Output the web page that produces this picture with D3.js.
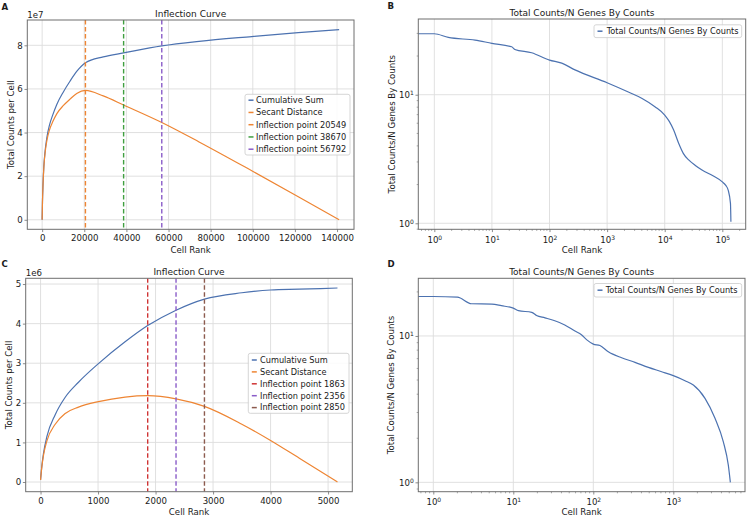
<!DOCTYPE html>
<html><head><meta charset="utf-8">
<script src="https://cdn.jsdelivr.net/npm/d3@7"></script>
<style>body{margin:0;background:#fff} text{font-family:"DejaVu Sans",sans-serif}</style>
</head><body><script>
// ---------- DATA ----------
// Panel A (values in units of 1e7)
const aRank   = [0,150,400,800,1400,2200,3500,5000,7000,10000,13200,16400,20549,29000,38670,56792,74500,99500,121600,141000];
const aCumSum = [0,0.8,1.6,2.45,3.15,3.75,4.35,4.8,5.3,5.85,6.35,6.8,7.2,7.47,7.65,7.97,8.18,8.4,8.58,8.72];
const aSecant = [0,0.79,1.58,2.4,3.06,3.61,4.13,4.49,4.87,5.23,5.53,5.79,5.93,5.68,5.26,4.46,3.57,2.25,1.06,0];
const aInflections = [20549,38670,56792];
const aXTicks = [0,20000,40000,60000,80000,100000,120000,140000];
const aYTicks = [0,2,4,6,8];

// Panel B (log-log)
const bRank  = [0.3,1,1.75,5.1,10,22,25,49,100,163,277,1000,2335,3980,6760,10000,12000,14300,17450,21000,26060,34000,44400,70000,98700,115000,126000,138500,141000];
const bRatio = [29.8,29.8,27.9,26.6,25.1,23.6,22.5,21.2,18.6,17.6,15.6,12.4,10.5,9.4,8.07,6.95,6.2,5.31,4.19,3.5,3.11,2.82,2.6,2.33,2.11,1.97,1.82,1.43,1.03];
const bXTicks = [1,10,100,1000,10000,100000];
const bYTicks = [1,10];

// Panel C (values in units of 1e6)
const cRank   = [0,24,52,111,255,429,660,1007,1470,1863,2356,2850,3500,4000,4500,5163];
const cCumSum = [0.05,0.42,0.73,1.15,1.7,2.14,2.52,2.99,3.54,3.95,4.34,4.62,4.78,4.85,4.87,4.9];
const cSecant = [0.05,0.4,0.68,1.04,1.46,1.73,1.89,2.03,2.145,2.18,2.1,1.91,1.46,1.05,0.6,0];
const cInflections = [1863,2356,2850];
const cXTicks = [0,1000,2000,3000,4000,5000];
const cYTicks = [0,1,2,3,4,5];

// Panel D (log-log)
const dRank  = [0.3,1,2,3,5.4,7.1,10,11.6,17,19.5,24.9,33,44,59,71,83,100,121,154,226,332,488,715,1000,1400,1780,2490,3320,4220,4870,5163];
const dRatio = [18.6,18.6,18.4,16.6,16.5,16.1,15.5,14.9,14.5,13.8,13.3,12.7,11.9,10.8,10.2,9.4,8.8,8.6,7.8,7.1,6.6,6.1,5.7,5.36,4.95,4.62,3.75,2.74,1.89,1.31,1.0];
const dXTicks = [1,10,100,1000];
const dYTicks = [1,10];

// ---------- STYLE ----------
const COL = {blue:"#4c72b0", orange:"#ee8533", green:"#3f9f3f", purple:"#8a5cc8",
  red:"#cf3434", brown:"#8c5b4e", grid:"#dcdcdc", spine:"#6e6e6e", text:"#1a1a1a"};
const W=749, H=519;
const svg = d3.select("body").append("svg").attr("width",W).attr("height",H);
svg.append("rect").attr("width",W).attr("height",H).attr("fill","#fff");
let clipN = 0;

function txt(g, x, y, s, size, opts={}) {
  return g.append("text").attr("x",x).attr("y",y).attr("font-size",size+"px")
    .attr("fill",COL.text).attr("text-anchor",opts.anchor||"start")
    .attr("font-weight",opts.bold?"bold":"normal").text(s);
}

function panel(o) {
  const {l,t,r,b} = o.box;
  const g = svg.append("g");
  g.selectAll(null).data(o.xTicks).join("line")
    .attr("x1",d=>o.x(d)).attr("x2",d=>o.x(d)).attr("y1",t).attr("y2",b)
    .attr("stroke",COL.grid).attr("stroke-width",0.9);
  g.selectAll(null).data(o.yTicks).join("line")
    .attr("y1",d=>o.y(d)).attr("y2",d=>o.y(d)).attr("x1",l).attr("x2",r)
    .attr("stroke",COL.grid).attr("stroke-width",0.9);
  const id = "clip"+(clipN++);
  svg.append("clipPath").attr("id",id).append("rect").attr("x",l).attr("y",t).attr("width",r-l).attr("height",b-t);
  const plot = g.append("g").attr("clip-path",`url(#${id})`);
  const xa = g.append("g").attr("transform",`translate(0,${b})`)
    .call(d3.axisBottom(o.x).tickValues(o.xTicks).tickSize(2.8).tickPadding(o.log?4.5:3.2)
      .tickFormat(o.log?(()=>"") : d3.format("d")));
  const ya = g.append("g").attr("transform",`translate(${l},0)`)
    .call(d3.axisLeft(o.y).tickValues(o.yTicks).tickSize(2.8).tickPadding(1.8)
      .tickFormat(o.log?(()=>"") : d3.format("d")));
  [xa,ya].forEach(a=>{
    a.select(".domain").remove();
    a.selectAll(".tick line").attr("stroke",COL.spine).attr("stroke-width",0.8);
    a.selectAll(".tick text").attr("font-size","8.6px").attr("fill",COL.text).attr("font-family","DejaVu Sans");
  });
  if (o.log) {
    [xa,ya].forEach(a=>{
      a.selectAll(".tick text").each(function(d){
        const s = d3.select(this);
        s.text("10");
        s.append("tspan").attr("dy","-0.5em").attr("font-size","6px").text(Math.round(Math.log10(d)));
      });
    });
    const minors = (sc) => {
      const [d0,d1] = sc.domain(); const out=[];
      for (let k=Math.floor(Math.log10(d0)); k<=Math.ceil(Math.log10(d1)); k++)
        for (let m=2; m<=9; m++) { const v=m*Math.pow(10,k); if (v>=d0 && v<=d1) out.push(v); }
      return out;
    };
    g.selectAll(null).data(minors(o.x)).join("line")
      .attr("x1",d=>o.x(d)).attr("x2",d=>o.x(d)).attr("y1",b).attr("y2",b+1.6)
      .attr("stroke",COL.spine).attr("stroke-width",0.6);
    g.selectAll(null).data(minors(o.y)).join("line")
      .attr("y1",d=>o.y(d)).attr("y2",d=>o.y(d)).attr("x1",l).attr("x2",l-1.6)
      .attr("stroke",COL.spine).attr("stroke-width",0.6);
  }
  g.append("rect").attr("x",l).attr("y",t).attr("width",r-l).attr("height",b-t)
    .attr("fill","none").attr("stroke",COL.spine).attr("stroke-width",1);
  txt(g,(l+r)/2,o.titleY,o.title,9,{anchor:"middle"});
  txt(g,(l+r)/2,o.xLabelY,"Cell Rank",8.6,{anchor:"middle"});
  g.append("text").attr("transform",`translate(${o.yLabelX},${(t+b)/2}) rotate(-90)`)
    .attr("text-anchor","middle").attr("font-size","8.6px").attr("fill",COL.text).text(o.yLabel);
  if (o.offset) txt(g,l,t-2.5,o.offset,8.6);
  txt(g,o.letter[1],o.letter[2],o.letter[0],8.6,{bold:true});
  return {g,plot};
}

function legend(g, x, y, w, h, items, firstY, step, textX) {
  g.append("rect").attr("x",x).attr("y",y).attr("width",w).attr("height",h).attr("rx",2)
    .attr("fill","#fff").attr("fill-opacity",0.85).attr("stroke","#cccccc").attr("stroke-width",0.8);
  items.forEach((it,i)=>{
    const cy = firstY + i*step;
    g.append("line").attr("x1",x+3.5).attr("x2",x+8.5).attr("y1",cy).attr("y2",cy)
      .attr("stroke",it.color).attr("stroke-width",1.5);
    g.append("text").attr("x",textX).attr("y",cy).attr("dy","0.35em").attr("font-size","8.2px")
      .attr("fill",COL.text).text(it.label);
  });
}

function drawLine(plot, xs, ys, x, y, color, curve) {
  const pts = xs.map((v,i)=>[v,ys[i]]);
  plot.append("path").datum(pts).attr("fill","none").attr("stroke",color).attr("stroke-width",1.2)
    .attr("stroke-linejoin","round")
    .attr("d", d3.line().x(d=>x(d[0])).y(d=>y(d[1])).curve(curve||d3.curveLinear));
}

// ---------- Panel A ----------
{
  const box={l:27.3,t:20,r:354,b:229.3};
  const x=d3.scaleLinear().domain([-7050,148050]).range([box.l,box.r]);
  const y=d3.scaleLinear().domain([-0.436,9.16]).range([box.b,box.t]);
  const p=panel({box,x,y,xTicks:aXTicks,yTicks:aYTicks,title:"Inflection Curve",titleY:16.5,xLabelY:252.5,
    yLabel:"Total Counts per Cell",yLabelX:13.5,offset:"1e7",letter:["A",1.5,9.5]});
  drawLine(p.plot,aRank,aCumSum,x,y,COL.blue,d3.curveMonotoneX);
  drawLine(p.plot,aRank,aSecant,x,y,COL.orange,d3.curveMonotoneX);
  const ic=[COL.orange,COL.green,COL.purple];
  aInflections.forEach((v,i)=>p.plot.append("line").attr("x1",x(v)).attr("x2",x(v)).attr("y1",box.t).attr("y2",box.b)
    .attr("stroke",ic[i]).attr("stroke-width",1.4).attr("stroke-dasharray","4.5,2.5"));
  legend(p.g,245,94.3,105,60.7,[
    {label:"Cumulative Sum",color:COL.blue},{label:"Secant Distance",color:COL.orange},
    ...aInflections.map((v,i)=>({label:"Inflection point "+v,color:ic[i]}))],100.2,12.25,256);
}
// ---------- Panel B ----------
{
  const box={l:418.3,t:19,r:745.7,b:229.3};
  const x=d3.scaleLog().domain([Math.pow(10,-0.278),Math.pow(10,5.406)]).range([box.l,box.r]);
  const y=d3.scaleLog().domain([Math.pow(10,-0.0467),Math.pow(10,1.589)]).range([box.b,box.t]);
  const p=panel({box,x,y,xTicks:bXTicks,yTicks:bYTicks,log:true,title:"Total Counts/N Genes By Counts",titleY:16,xLabelY:253,
    yLabel:"Total Counts/N Genes By Counts",yLabelX:395,letter:["B",387.5,9]});
  drawLine(p.plot,bRank,bRatio,x,y,COL.blue,d3.curveMonotoneX);
  legend(p.g,594,24.8,147.7,12.8,[{label:"Total Counts/N Genes By Counts",color:COL.blue}],31.2,0,606.7);
}
// ---------- Panel C ----------
{
  const box={l:25.7,t:278.3,r:352.3,b:491.7};
  const x=d3.scaleLinear().domain([-258,5421]).range([box.l,box.r]);
  const y=d3.scaleLinear().domain([-0.245,5.145]).range([box.b,box.t]);
  const p=panel({box,x,y,xTicks:cXTicks,yTicks:cYTicks,title:"Inflection Curve",titleY:275,xLabelY:514.5,
    yLabel:"Total Counts per Cell",yLabelX:11.5,offset:"1e6",letter:["C",1.5,266.7]});
  drawLine(p.plot,cRank,cCumSum,x,y,COL.blue,d3.curveMonotoneX);
  drawLine(p.plot,cRank,cSecant,x,y,COL.orange,d3.curveMonotoneX);
  const ic=[COL.red,COL.purple,COL.brown];
  cInflections.forEach((v,i)=>p.plot.append("line").attr("x1",x(v)).attr("x2",x(v)).attr("y1",box.t).attr("y2",box.b)
    .attr("stroke",ic[i]).attr("stroke-width",1.4).attr("stroke-dasharray","4.5,2.5"));
  legend(p.g,248.3,353.3,100.7,60,[
    {label:"Cumulative Sum",color:COL.blue},{label:"Secant Distance",color:COL.orange},
    ...cInflections.map((v,i)=>({label:"Inflection point "+v,color:ic[i]}))],360,11.9,260);
}
// ---------- Panel D ----------
{
  const box={l:418.3,t:278.3,r:745,b:491.7};
  const x=d3.scaleLog().domain([Math.pow(10,-0.1875),Math.pow(10,3.896)]).range([box.l,box.r]);
  const y=d3.scaleLog().domain([Math.pow(10,-0.064),Math.pow(10,1.394)]).range([box.b,box.t]);
  const p=panel({box,x,y,xTicks:dXTicks,yTicks:dYTicks,log:true,title:"Total Counts/N Genes By Counts",titleY:275,xLabelY:514.5,
    yLabel:"Total Counts/N Genes By Counts",yLabelX:394,letter:["D",387.5,266.7]});
  drawLine(p.plot,dRank,dRatio,x,y,COL.blue,d3.curveMonotoneX);
  legend(p.g,594,283.5,147.7,13.5,[{label:"Total Counts/N Genes By Counts",color:COL.blue}],290.2,0,605.7);
}
</script></body></html>
